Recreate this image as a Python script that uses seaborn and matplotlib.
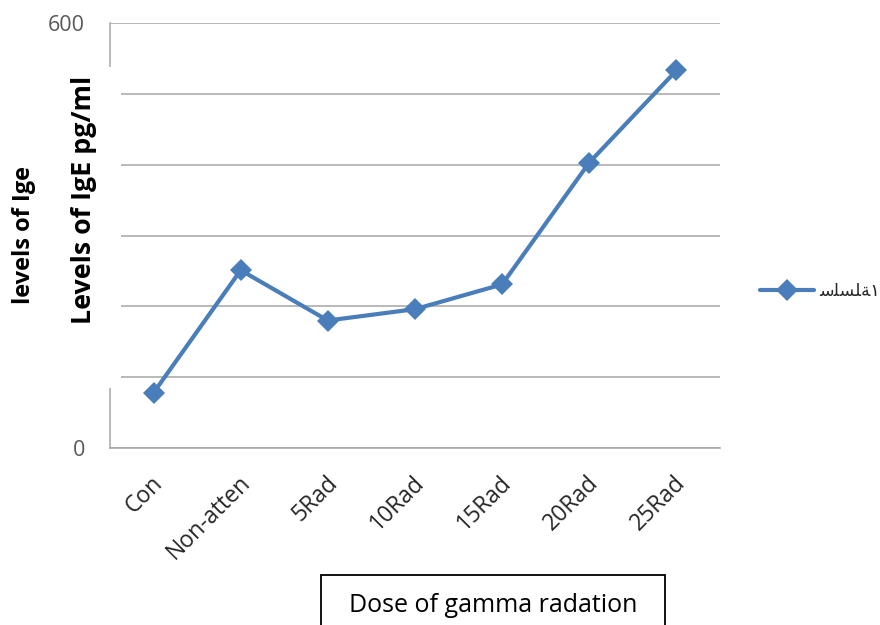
import matplotlib
matplotlib.use("Agg")
import matplotlib.pyplot as plt
import matplotlib.transforms as mtransforms
from matplotlib.patches import Rectangle
import seaborn as sns
import pandas as pd

categories = ["Con", "Non-atten", "5Rad", "10Rad", "15Rad", "20Rad", "25Rad"]
values = [78, 251, 180, 196, 231, 403, 533]
series_name = "\uFEB3\uFEE0\uFEB4\uFEE0\uFE94\u0661"  # سلسلة١ (shaped glyphs)
y_ticks = [0, 100, 200, 300, 400, 500, 600]
y_tick_labels = ["0", "", "", "", "", "", "600"]
ylabel_outer = "levels of Ige"
ylabel_inner = "Levels of IgE pg/ml"
xlabel = "Dose of gamma radation"

sns.set_style("white")
plt.rcParams["font.family"] = ["Open Sans", "DejaVu Sans"]

W, H = 880, 625
fig = plt.figure(figsize=(W / 100, H / 100), dpi=100)
ax = fig.add_axes([110 / W, 1 - 448 / H, 610 / W, 425 / H])

df = pd.DataFrame({"dose": categories, "level": values})
sns.lineplot(data=df, x="dose", y="level", sort=False, ax=ax, color="#4a7ebb",
             linewidth=3.0, marker="D", markersize=11.5, markeredgewidth=0,
             label=series_name)

ax.set_xlim(-0.5, len(categories) - 0.5)
ax.set_ylim(0, 600)
ax.set_yticks(y_ticks)
ax.set_yticklabels(y_tick_labels)
ax.yaxis.grid(True, color="#a6a6a6", linewidth=1.1)
ax.xaxis.grid(False)
ax.set_axisbelow(True)
for s in ["top", "right"]:
    ax.spines[s].set_visible(False)
for s in ["left", "bottom"]:
    ax.spines[s].set_color("#a6a6a6")
    ax.spines[s].set_linewidth(1.1)
ax.set_xlabel("")
ax.set_ylabel("")
ax.tick_params(axis="y", length=0, pad=18, labelsize=15.5, labelcolor="#595959")
ax.tick_params(axis="x", length=0, pad=14, labelsize=16.5, labelcolor="#262626")
for lbl in ax.get_xticklabels():
    lbl.set_rotation(45)
    lbl.set_ha("right")
    lbl.set_va("center")
    lbl.set_rotation_mode("anchor")
    lbl.set_transform(lbl.get_transform() + mtransforms.ScaledTranslation(6 / 100, -12 / 100, fig.dpi_scale_trans))

# white box of the axis title, covering the left axis ends
fig.patches.append(Rectangle((40 / W, 1 - 388 / H), 81 / W, 321 / H, transform=fig.transFigure,
                             facecolor="white", edgecolor="none", zorder=2))
fig.text(84 / W, 1 - 200 / H, ylabel_inner, rotation=90, ha="center", va="center",
         fontsize=19.3, fontweight="bold", color="black", zorder=3)
fig.text(24 / W, 1 - 235 / H, ylabel_outer, rotation=90, ha="center", va="center",
         fontsize=17, fontweight="bold", color="black", zorder=3)

# x axis title box
fig.patches.append(Rectangle((321 / W, -0.05), 344 / W, 0.05 + 1 - 575 / H, transform=fig.transFigure,
                             facecolor="white", edgecolor="black", linewidth=1.3, zorder=2))
fig.text(493 / W, 1 - 605 / H, xlabel, ha="center", va="center", fontsize=18, color="black", zorder=3)

leg = ax.legend(loc="center left", bbox_to_anchor=(760 / W, 1 - 291 / H), bbox_transform=fig.transFigure,
                frameon=False, borderpad=0, borderaxespad=0, handlelength=3.1, handletextpad=0.3,
                prop={"family": ["DejaVu Sans"], "size": 12.5})

fig.savefig("out.png", dpi=100, facecolor="white")
